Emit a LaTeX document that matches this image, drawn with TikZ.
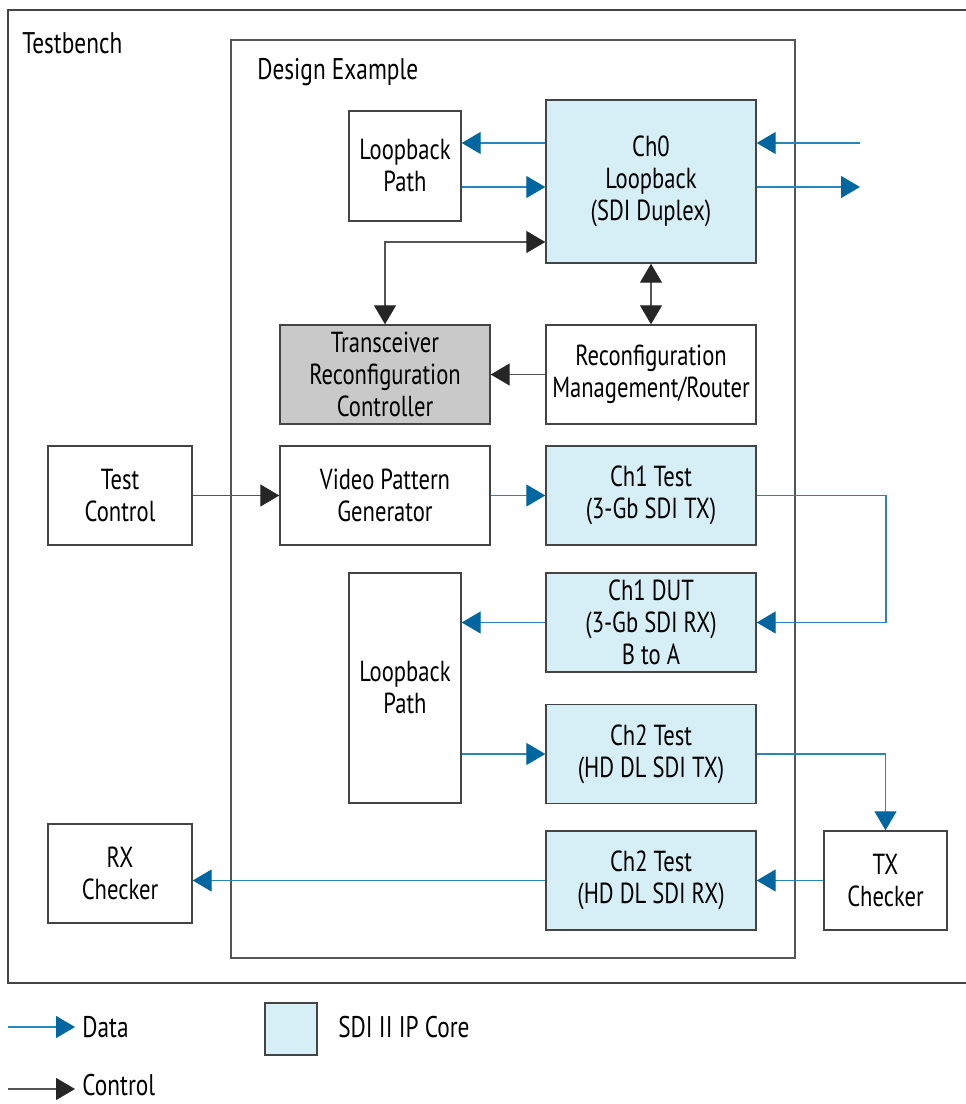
\documentclass[tikz,border=0pt]{standalone}
\usepackage{fontspec}
\setmainfont[FakeStretch=0.78]{PT Sans}
\usetikzlibrary{arrows.meta}
\definecolor{ipblue}{HTML}{D6EEF5}
\definecolor{datblue}{HTML}{2A86B8}
\definecolor{datdark}{HTML}{0066A0}
\definecolor{ctlgray}{HTML}{555555}
\definecolor{frame}{HTML}{444444}
\tikzset{
  blk/.style={draw=frame,line width=0.8pt,fill=white,align=center,inner sep=0pt,
    font=\fontsize{16.5}{18.2}\selectfont},
  ipcore/.style={blk,fill=ipblue},
  dtip/.tip={Triangle[length=3.8mm,width=4.4mm,color=datdark,fill=datdark]},
  ctip/.tip={Triangle[length=3.8mm,width=4.4mm,color=black!85,fill=black!85]},
  dat/.style={datblue,line width=0.7pt,-dtip},
  ctl/.style={ctlgray,line width=0.7pt,-ctip},
  ctlboth/.style={ctlgray,line width=0.7pt,ctip-ctip},
  lbl/.style={font=\fontsize{17}{20}\selectfont,inner sep=0pt,anchor=west}
}
\begin{document}
\begin{tikzpicture}[x=0.2mm,y=-0.2mm,line join=miter]
	\useasboundingbox (0,0) rectangle (965,1104);

	% 外框
	\draw[frame,line width=0.8pt] (967,10) -- (8,10) -- (8,983) -- (967,983);
	\draw[ctlgray,line width=0.8pt] (231,40) rectangle (795,958);
	\node[lbl] (tb) at (22,43) {Testbench};
	\node[lbl] (de) at (257,72) {Design Example};

	% 各模块
	\node[blk,minimum width=22.4mm,minimum height=22mm] (lpa) at (405,166) {Loopback\\Path};
	\node[ipcore,minimum width=42mm,minimum height=32.6mm] (ch0) at (651,181.5) {Ch0\\Loopback\\(SDI Duplex)};
	\node[blk,fill=black!21,minimum width=42mm,minimum height=19.8mm] (xcvr) at (385,374.5) {Transceiver\\Reconfiguration\\Controller};
	\node[blk,minimum width=42mm,minimum height=19.8mm] (rcfg) at (651,374.5) {Reconfiguration\\Management/Router};
	\node[blk,minimum width=28.8mm,minimum height=19.8mm] (tctl) at (120,495.5) {Test\\Control};
	\node[blk,minimum width=42mm,minimum height=19.8mm] (vpg) at (385,495.5) {Video Pattern\\Generator};
	\node[ipcore,minimum width=42mm,minimum height=19.8mm] (ch1t) at (651,495.5) {Ch1 Test\\(3-Gb SDI TX)};
	\node[ipcore,minimum width=42mm,minimum height=19.8mm] (ch1d) at (651,622.5) {Ch1 DUT\\(3-Gb SDI RX)\\B to A};
	\node[blk,minimum width=22.4mm,minimum height=46mm] (lpb) at (405,688) {Loopback\\Path};
	\node[ipcore,minimum width=42mm,minimum height=19.8mm] (ch2t) at (651,754) {Ch2 Test\\(HD DL SDI TX)};
	\node[ipcore,minimum width=42mm,minimum height=19.8mm] (ch2r) at (651,880.5) {Ch2 Test\\(HD DL SDI RX)};
	\node[blk,minimum width=28.8mm,minimum height=19.8mm] (rxc) at (120,873.5) {RX\\Checker};
	\node[blk,minimum width=24.6mm,minimum height=19.8mm] (txc) at (885.5,880.5) {TX\\Checker};

	% 辅助坐标
	\coordinate (ya) at (0,143);
	\coordinate (yb) at (0,187);
	\coordinate (yc) at (0,242);
	\coordinate (ext) at (860,0);
	\coordinate (rt) at (886,0);

	% 数据通路
	\draw[dat] (ch0.west |- ya) -- (lpa.east |- ya);
	\draw[dat] (lpa.east |- yb) -- (ch0.west |- yb);
	\draw[dat] (ext |- ya) -- (ch0.east |- ya);
	\draw[dat] (ch0.east |- yb) -- (ext |- yb);
	\draw[dat] (vpg) -- (ch1t);
	\draw[dat] (ch1t.east) -- (rt |- ch1t.east) |- (ch1d.east);
	\draw[dat] (ch1d.west) -- (lpb.east |- ch1d.west);
	\draw[dat] (lpb.east |- ch2t.west) -- (ch2t.west);
	\draw[dat] (ch2t.east) -| (txc.north);
	\draw[dat] (txc) -- (ch2r);
	\draw[dat] (ch2r.west) -- (rxc.east |- ch2r.west);

	% 控制通路
	\draw[ctlboth] (ch0.west |- yc) -| (xcvr.north);
	\draw[ctlboth] (ch0.south) -- (rcfg.north);
	\draw[ctl] (rcfg) -- (xcvr);
	\draw[ctl] (tctl) -- (vpg);

	% 图例
	\coordinate (la) at (8,1027);
	\coordinate (lb) at (8,1089);
	\node[lbl] (ldat) at (82,1027) {Data};
	\node[lbl] (lctl) at (82,1085) {Control};
	\node[ipcore,minimum width=10.4mm,minimum height=10.4mm] (lip) at (291,1029) {};
	\node[lbl] (lipt) at (338,1027) {SDI II IP Core};
	\draw[dat,shorten >=1.4mm] (la) -- (ldat.west);
	\draw[ctl,shorten >=1.4mm] (lb) -- (lctl.west |- lb);
\end{tikzpicture}
\end{document}
